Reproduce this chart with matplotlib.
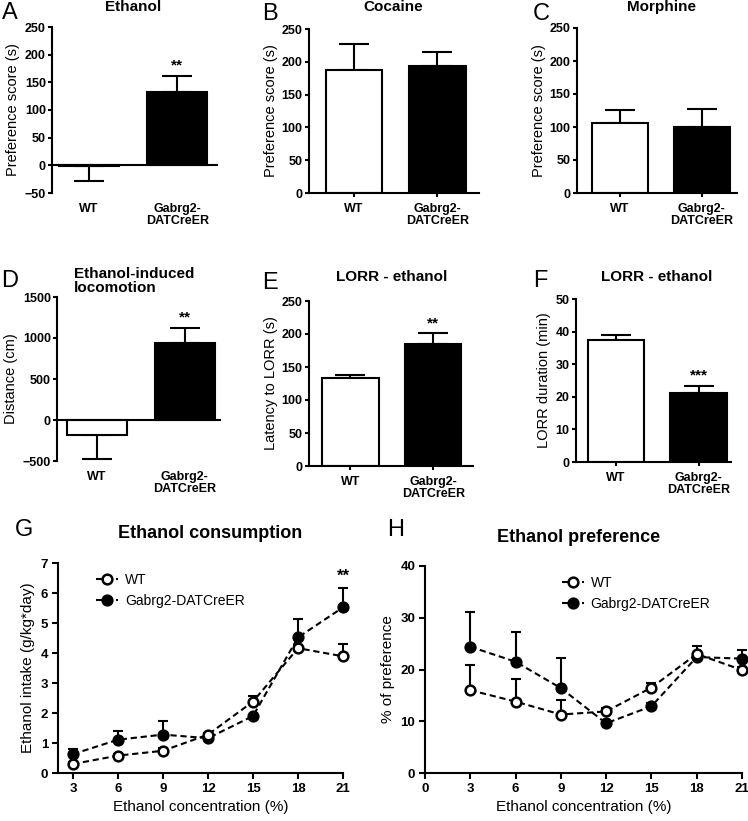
import numpy as np
import matplotlib
matplotlib.use('Agg')
import matplotlib.pyplot as plt

plt.rcParams['font.family'] = ['Liberation Sans', 'DejaVu Sans']
plt.rcParams['axes.linewidth'] = 1.5

W, H = 748, 821

groups = ['WT', 'Gabrg2-\nDATCreER']

# bar panels, mean and SEM for (WT, Gabrg2-DATCreER)
etoh_cpp = [-1, 132]
etoh_cpp_sem = [28, 29]
cocaine_cpp = [188, 193]
cocaine_cpp_sem = [39, 22]
morphine_cpp = [106, 100]
morphine_cpp_sem = [20, 28]
locomotion = [-184, 939]
locomotion_sem = [294, 183]
lorr_latency = [132.6, 185]
lorr_latency_sem = [5, 16]
lorr_duration = [37.4, 21.1]
lorr_duration_sem = [1.5, 2.3]

# two-bottle choice, per ethanol concentration
conc = [3, 6, 9, 12, 15, 18, 21]
intake_wt = [0.30, 0.58, 0.74, 1.28, 2.38, 4.16, 3.89]
intake_wt_sem = [0.08, 0.06, 0.08, 0.05, 0.20, 0.10, 0.41]
intake_ko = [0.63, 1.11, 1.28, 1.16, 1.90, 4.52, 5.52]
intake_ko_sem = [0.17, 0.28, 0.46, 0.05, 0.05, 0.61, 0.65]
pref_wt = [16.0, 13.8, 11.3, 11.9, 16.5, 23.0, 19.9]
pref_wt_sem = [4.8, 4.3, 2.9, 0.7, 0.8, 1.6, 0.5]
pref_ko = [24.4, 21.5, 16.4, 9.6, 12.9, 22.4, 22.1]
pref_ko_sem = [6.8, 5.8, 5.9, 0.3, 0.7, 0.6, 1.7]

fig = plt.figure(figsize=(W / 100, H / 100), dpi=100)


def px_axes(left, top, right, bottom):
    return fig.add_axes([left / W, 1 - bottom / H, (right - left) / W, (bottom - top) / H])


def px_text(x, y, s, **kw):
    fig.text(x / W, 1 - y / H, s, **kw)


def bar_panel(ax, means, sems, ylim, yticks, ylabel, xlim, stars=None):
    x = np.arange(len(means))
    ax.bar(x, means, width=0.68, color=['white', 'black'], edgecolor='black',
           linewidth=1.5, zorder=2)
    lower = [s if m < 0 else 0 for m, s in zip(means, sems)]
    upper = [s if m >= 0 else 0 for m, s in zip(means, sems)]
    ax.errorbar(x, means, yerr=[lower, upper], fmt='none', ecolor='black',
                elinewidth=1.5, capsize=11, capthick=1.5, zorder=1)
    ax.set_xlim(*xlim)
    ax.set_ylim(*ylim)
    ax.set_yticks(yticks)
    ax.set_xticks(x)
    ax.set_xticklabels(groups, fontsize=9, fontweight='bold', linespacing=1.0)
    ax.set_ylabel(ylabel, fontsize=10.5, labelpad=3)
    ax.spines['top'].set_visible(False)
    ax.spines['right'].set_visible(False)
    ax.tick_params(axis='y', direction='out', length=3, width=1.5, pad=1.5,
                   labelsize=9)
    for lab in ax.get_yticklabels():
        lab.set_fontweight('bold')
    if ylim[0] < 0:
        # zero line instead of a bottom spine
        ax.spines['bottom'].set_visible(False)
        ax.axhline(0, color='black', lw=1.5, zorder=3)
        ax.tick_params(axis='x', length=0, pad=7)
    else:
        ax.tick_params(axis='x', direction='out', length=3, width=1.5, pad=4)
    if stars:
        ax.text(1, means[1] + sems[1] + (ylim[1] - ylim[0]) * 0.02, stars,
                ha='center', va='bottom', fontsize=11, fontweight='bold')


axA = px_axes(52, 27, 218, 193)
bar_panel(axA, etoh_cpp, etoh_cpp_sem, (-50, 250), range(-50, 251, 50),
          'Preference score (s)', (-0.42, 1.46), '**')
axB = px_axes(309, 29, 479, 193)
bar_panel(axB, cocaine_cpp, cocaine_cpp_sem, (0, 250), range(0, 251, 50),
          'Preference score (s)', (-0.54, 1.5))
axC = px_axes(577, 28, 737, 193)
bar_panel(axC, morphine_cpp, morphine_cpp_sem, (0, 250), range(0, 251, 50),
          'Preference score (s)', (-0.52, 1.43))
axD = px_axes(57, 297, 221, 461)
bar_panel(axD, locomotion, locomotion_sem, (-500, 1500), range(-500, 1501, 500),
          'Distance (cm)', (-0.45, 1.41), '**')
axE = px_axes(309, 301, 473, 466)
bar_panel(axE, lorr_latency, lorr_latency_sem, (0, 250), range(0, 251, 50),
          'Latency to LORR (s)', (-0.5, 1.48), '**')
axF = px_axes(576, 299, 731, 462)
bar_panel(axF, lorr_duration, lorr_duration_sem, (0, 50), range(0, 51, 10),
          'LORR duration (min)', (-0.48, 1.39), '***')


def line_panel(ax, wt, wt_sem, ko, ko_sem, ylim, yticks, xlim, xticks, ylabel, legend_x):
    dash = (0, (3, 1.8))
    for m, s in ((wt, wt_sem), (ko, ko_sem)):
        ax.errorbar(conc, m, yerr=[np.zeros(len(s)), s], fmt='none', ecolor='black',
                    elinewidth=1.5, capsize=3.6, capthick=1.5, zorder=2, clip_on=False)
    ax.plot(conc, wt, linestyle=dash, color='black', lw=1.5, marker='o', ms=7,
            mfc='white', mec='black', mew=1.8, clip_on=False, zorder=4, label='WT')
    ax.plot(conc, ko, linestyle=dash, color='black', lw=1.5, marker='o', ms=7,
            mfc='black', mec='black', mew=1.8, clip_on=False, zorder=3,
            label='Gabrg2-DATCreER')
    ax.set_xlim(*xlim)
    ax.set_ylim(*ylim)
    ax.set_xticks(xticks)
    ax.set_yticks(yticks)
    ax.spines['top'].set_visible(False)
    ax.spines['right'].set_visible(False)
    ax.tick_params(direction='out', length=4, width=1.5, labelsize=9.5, pad=3)
    for lab in ax.get_xticklabels() + ax.get_yticklabels():
        lab.set_fontweight('bold')
    ax.set_xlabel('Ethanol concentration (%)', fontsize=11, labelpad=4)
    ax.set_ylabel(ylabel, fontsize=11, labelpad=4)
    ax.legend(loc='upper left', bbox_to_anchor=(legend_x, 1.0), frameon=False,
              fontsize=10, handlelength=1.6, handletextpad=0.5, borderaxespad=0.3)


axG = px_axes(58, 563, 343, 773)
line_panel(axG, intake_wt, intake_wt_sem, intake_ko, intake_ko_sem, (0, 7),
           range(0, 8), (2, 21), conc, 'Ethanol intake (g/kg*day)', 0.1)
axG.text(21, intake_ko[-1] + intake_ko_sem[-1] + 0.15, '**', ha='center',
         va='bottom', fontsize=12, fontweight='bold')

axH = px_axes(425, 566, 742, 773)
line_panel(axH, pref_wt, pref_wt_sem, pref_ko, pref_ko_sem, (0, 40),
           range(0, 41, 10), (0, 21), range(0, 22, 3), '% of preference', 0.4)

# panel letters
for letter, x, y in [('A', 10, 13), ('B', 270, 14), ('C', 541, 14),
                     ('D', 10, 281), ('E', 270, 283), ('F', 540, 281),
                     ('G', 24, 530), ('H', 396, 530)]:
    px_text(x, y, letter, fontsize=17, ha='center', va='center')

# panel titles
for title, x, y, size in [('Ethanol', 133, 7, 11), ('Cocaine', 393, 7, 11),
                          ('Morphine', 661, 7, 11), ('LORR - ethanol', 392, 277, 11),
                          ('LORR - ethanol', 657, 277, 11),
                          ('Ethanol consumption', 210, 533, 13),
                          ('Ethanol preference', 579, 537, 13)]:
    px_text(x, y, title, fontsize=size, fontweight='bold', ha='center', va='center')
px_text(74, 281, 'Ethanol-induced\nlocomotion', fontsize=11, fontweight='bold',
        ha='left', va='center', linespacing=1.0)

fig.savefig('out.png', dpi=100)
